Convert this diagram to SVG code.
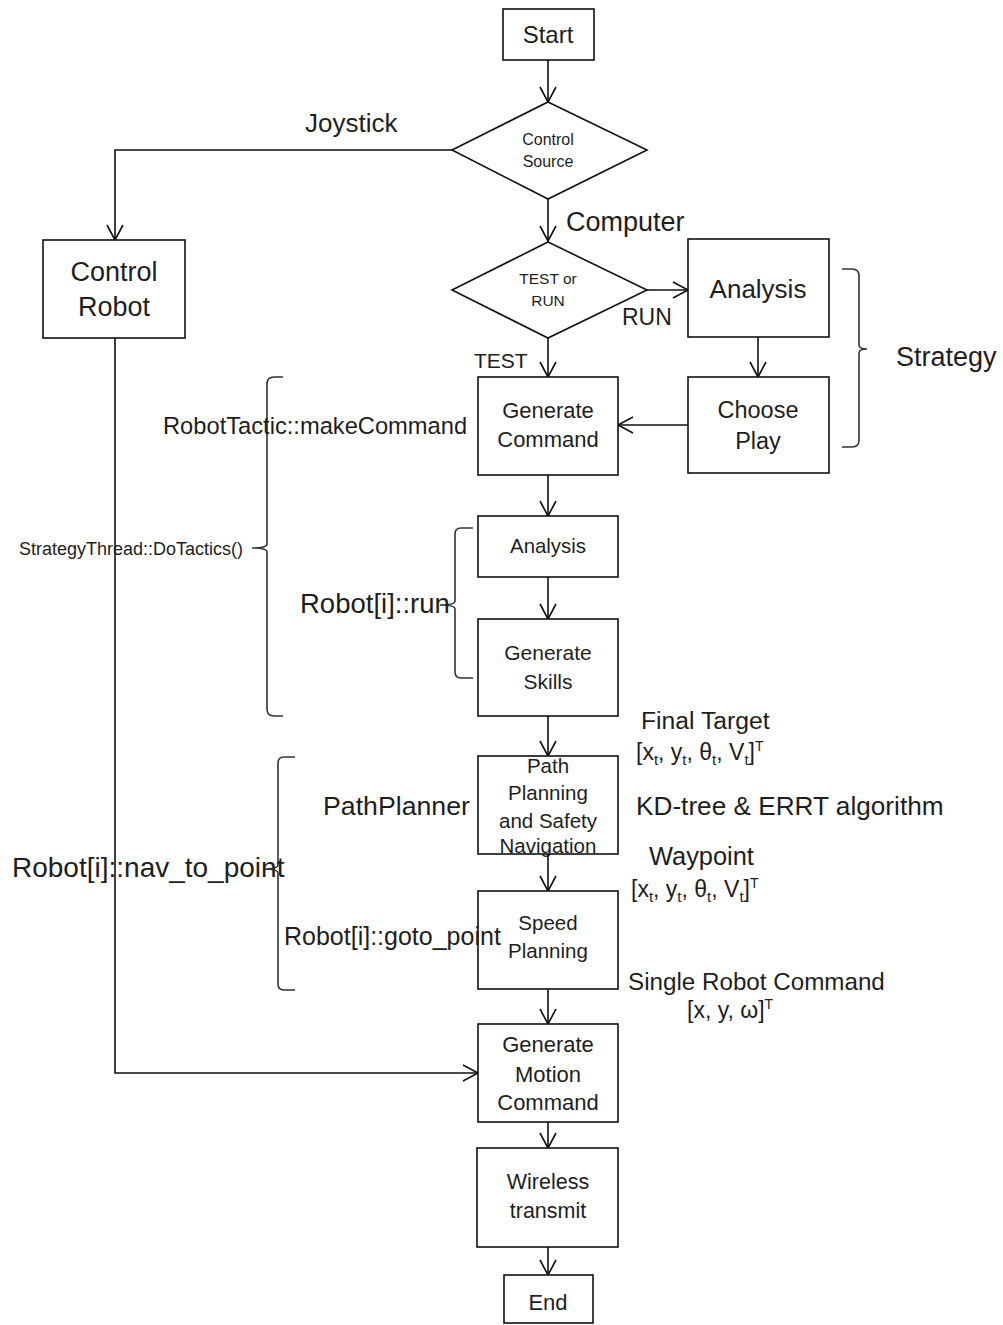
<svg xmlns="http://www.w3.org/2000/svg" width="1003" height="1325" viewBox="0 0 1003 1325">
  <style>
    text { font-family: "Liberation Sans", Arial, sans-serif; fill: #1e1e1e; }
    .c { text-anchor: middle; }
    .box { fill: #fff; stroke: #111; stroke-width: 1.6; }
    .wire { fill: none; stroke: #111; stroke-width: 1.6; marker-end: url(#arrow); }
    .brace { fill: none; stroke: #333; stroke-width: 1.6; }
  </style>
  <defs>
    <marker id="arrow" viewBox="-16 -10 18 20" refX="0" refY="0" markerUnits="userSpaceOnUse" markerWidth="18" markerHeight="20" orient="auto">
      <path d="M-15,-8 L0,0 L-15,8" fill="none" stroke="#111" stroke-width="1.6"/>
    </marker>
  </defs>
  <rect width="1003" height="1325" fill="#fff"/>

  <!-- connectors -->
  <g id="connectors">
    <path class="wire" d="M548,60 V102"/>
    <path class="wire" d="M452,150 H115 V240"/>
    <path class="wire" d="M548,199 V241"/>
    <path class="wire" d="M647,290 H688"/>
    <path class="wire" d="M548,338 V377"/>
    <path class="wire" d="M758,337 V377"/>
    <path class="wire" d="M688,425 H618"/>
    <path class="wire" d="M548,475 V516"/>
    <path class="wire" d="M548,577 V619"/>
    <path class="wire" d="M548,716 V756"/>
    <path class="wire" d="M548,854 V891"/>
    <path class="wire" d="M548,989 V1024"/>
    <path class="wire" d="M115,338 V1073 H478"/>
    <path class="wire" d="M548,1122 V1148"/>
    <path class="wire" d="M548,1247 V1275"/>
  </g>

  <!-- edge labels -->
  <g id="edge-labels">
    <text x="305" y="132" font-size="26">Joystick</text>
    <text x="566" y="231" font-size="27">Computer</text>
    <text x="622" y="325" font-size="23">RUN</text>
    <text x="474" y="368" font-size="21">TEST</text>
  </g>

  <!-- nodes -->
  <g id="start">
    <rect class="box" x="503" y="9" width="91" height="51"/>
    <text class="c" x="548" y="43" font-size="24">Start</text>
  </g>
  <g id="control-source">
    <polygon class="box" points="548,102 647,150 548,199 452,150"/>
    <text class="c" x="548" y="145" font-size="16">Control</text>
    <text class="c" x="548" y="167" font-size="16">Source</text>
  </g>
  <g id="control-robot">
    <rect class="box" x="43" y="240" width="142" height="98"/>
    <text class="c" x="114" y="281" font-size="27">Control</text>
    <text class="c" x="114" y="316" font-size="27">Robot</text>
  </g>
  <g id="test-or-run">
    <polygon class="box" points="548,242 647,290 548,338 452,290"/>
    <text class="c" x="548" y="284" font-size="15.5">TEST or</text>
    <text class="c" x="548" y="306" font-size="15.5">RUN</text>
  </g>
  <g id="analysis">
    <rect class="box" x="688" y="239" width="141" height="98"/>
    <text class="c" x="758" y="298" font-size="26">Analysis</text>
  </g>
  <g id="choose-play">
    <rect class="box" x="688" y="377" width="141" height="96"/>
    <text class="c" x="758" y="418" font-size="23.5">Choose</text>
    <text class="c" x="758" y="449" font-size="23.5">Play</text>
  </g>
  <g id="generate-command">
    <rect class="box" x="478" y="377" width="140" height="98"/>
    <text class="c" x="548" y="418" font-size="22">Generate</text>
    <text class="c" x="548" y="447" font-size="22">Command</text>
  </g>
  <g id="skill-analysis">
    <rect class="box" x="478" y="516" width="140" height="61"/>
    <text class="c" x="548" y="553" font-size="20.4">Analysis</text>
  </g>
  <g id="generate-skills">
    <rect class="box" x="478" y="619" width="140" height="97"/>
    <text class="c" x="548" y="660" font-size="21">Generate</text>
    <text class="c" x="548" y="689" font-size="21">Skills</text>
  </g>
  <g id="path-planning">
    <rect class="box" x="478" y="756" width="140" height="98"/>
    <text class="c" x="548" y="773" font-size="20.5">Path</text>
    <text class="c" x="548" y="800" font-size="20.5">Planning</text>
    <text class="c" x="548" y="828" font-size="20.5">and Safety</text>
    <text class="c" x="548" y="853" font-size="20.5">Navigation</text>
  </g>
  <g id="speed-planning">
    <rect class="box" x="478" y="891" width="140" height="98"/>
    <text class="c" x="548" y="930" font-size="20.5">Speed</text>
    <text class="c" x="548" y="958" font-size="20.5">Planning</text>
  </g>
  <g id="generate-motion-command">
    <rect class="box" x="478" y="1024" width="140" height="98"/>
    <text class="c" x="548" y="1052" font-size="22">Generate</text>
    <text class="c" x="548" y="1082" font-size="22">Motion</text>
    <text class="c" x="548" y="1110" font-size="22">Command</text>
  </g>
  <g id="wireless-transmit">
    <rect class="box" x="477" y="1148" width="141" height="99"/>
    <text class="c" x="548" y="1189" font-size="21.5">Wireless</text>
    <text class="c" x="548" y="1218" font-size="21.5">transmit</text>
  </g>
  <g id="end">
    <rect class="box" x="504" y="1275" width="89" height="48"/>
    <text class="c" x="548" y="1310" font-size="22">End</text>
  </g>

  <!-- grouping braces and their labels -->
  <g id="strategy-brace">
    <path class="brace" d="M842,269 H852 Q859,269 859,276 V345 Q859,349 867,349 Q859,349 859,353 V440 Q859,447 852,447 H842"/>
    <text x="896" y="366" font-size="27">Strategy</text>
  </g>
  <g id="do-tactics-brace">
    <path class="brace" d="M283,377 H274 Q267,377 267,384 V544 Q267,548 252,548 Q267,548 267,552 V709 Q267,716 274,716 H283"/>
    <text x="19" y="555" font-size="18">StrategyThread::DoTactics()</text>
    <text x="163" y="434" font-size="23.7">RobotTactic::makeCommand</text>
  </g>
  <g id="run-brace">
    <path class="brace" d="M473,528 H461 Q455,528 455,534 V601 Q455,605 440,605 Q455,605 455,609 V672 Q455,678 461,678 H473"/>
    <text x="300" y="613" font-size="27.5">Robot[i]::run</text>
  </g>
  <g id="nav-brace">
    <path class="brace" d="M295,757 H284 Q278,757 278,763 V865 Q278,869 263,869 Q278,869 278,873 V984 Q278,990 284,990 H295"/>
    <text x="12" y="877" font-size="28">Robot[i]::nav_to_point</text>
    <text x="323" y="815" font-size="26.7">PathPlanner</text>
    <text x="284" y="945" font-size="25">Robot[i]::goto_point</text>
  </g>

  <!-- annotations on the right -->
  <g id="annotations">
    <text x="641" y="729" font-size="24.7">Final Target</text>
    <text x="636" y="760" font-size="23">[x<tspan font-size="15" dy="5">t</tspan><tspan dy="-5">, y</tspan><tspan font-size="15" dy="5">t</tspan><tspan dy="-5">, θ</tspan><tspan font-size="15" dy="5">t</tspan><tspan dy="-5">, V</tspan><tspan font-size="15" dy="5">t</tspan><tspan dy="-5">]</tspan><tspan font-size="14" dy="-9">T</tspan></text>
    <text x="636" y="815" font-size="26.2">KD-tree &amp; ERRT algorithm</text>
    <text x="649" y="865" font-size="25.4">Waypoint</text>
    <text x="631" y="897" font-size="23">[x<tspan font-size="15" dy="5">t</tspan><tspan dy="-5">, y</tspan><tspan font-size="15" dy="5">t</tspan><tspan dy="-5">, θ</tspan><tspan font-size="15" dy="5">t</tspan><tspan dy="-5">, V</tspan><tspan font-size="15" dy="5">t</tspan><tspan dy="-5">]</tspan><tspan font-size="14" dy="-9">T</tspan></text>
    <text x="628" y="990" font-size="24.2">Single Robot Command</text>
    <text x="687" y="1018" font-size="23">[x, y, ω]<tspan font-size="14" dy="-9">T</tspan></text>
  </g>
</svg>
